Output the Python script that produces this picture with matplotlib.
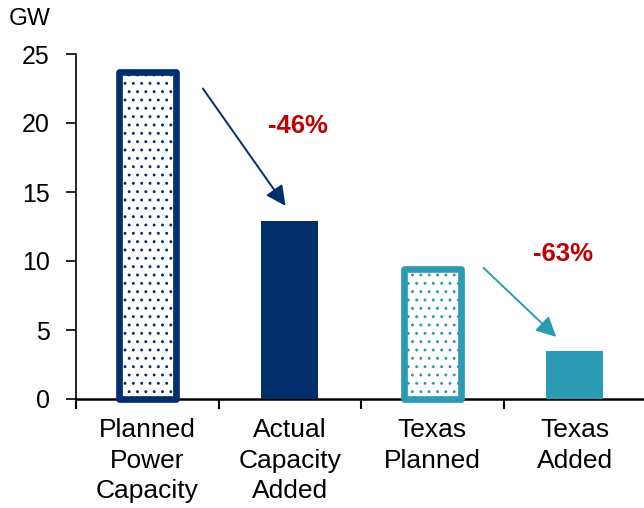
import matplotlib
matplotlib.use("Agg")
import matplotlib.pyplot as plt

plt.rcParams['font.family'] = ['Liberation Sans', 'DejaVu Sans']
plt.rcParams['hatch.linewidth'] = 0.9

# Data
categories = ["Planned\nPower\nCapacity", "Actual\nCapacity\nAdded",
              "Texas\nPlanned", "Texas\nAdded"]
values = [23.7, 12.9, 9.4, 3.5]
change_labels = ["-46%", "-63%"]
y_ticks = [0, 5, 10, 15, 20, 25]

navy = "#002F6C"
teal = "#2B9BB3"
red = "#C00000"
bar_colors = [navy, navy, teal, teal]
outlined = [True, False, True, False]

fig = plt.figure(figsize=(6.44, 5.08), dpi=100)
ax = fig.add_axes([76 / 644, 109 / 508, 570 / 644, 345 / 508])

x = list(range(len(values)))
for xi, v, c, hollow in zip(x, values, bar_colors, outlined):
    if hollow:
        ax.bar(xi, v, width=0.4, facecolor="white", edgecolor=c,
               linewidth=4.8, hatch="..", joinstyle="round",
               clip_on=False, zorder=3)
    else:
        ax.bar(xi, v, width=0.4, color=c, linewidth=0, zorder=3)

# Arrows from planned to actual, with percentage change labels
arrow_specs = [
    (0, navy, (0.39, values[0] - 1.2), (0.97, values[1] + 1.1), (1.06, 19.8)),
    (2, teal, (2.36, values[2] + 0.1), (2.87, values[3] + 1.0), (2.92, 10.5)),
]
for (i, col, start, end, lab_pos), lab in zip(arrow_specs, change_labels):
    ax.annotate("", xy=end, xytext=start,
                arrowprops=dict(arrowstyle="-|>,head_length=1.2,head_width=0.6",
                                color=col, lw=1.4, shrinkA=0, shrinkB=0))
    ax.text(lab_pos[0], lab_pos[1], lab, color=red, fontsize=18.5,
            fontweight="bold", ha="center", va="center")

ax.set_xlim(-0.5, 3.5)
ax.set_ylim(0, 25)
ax.set_yticks(y_ticks)
ax.set_yticklabels([str(t) for t in y_ticks], fontsize=18)

# category separators as major ticks, names centred as minor ticks
ax.set_xticks([-0.5, 0.5, 1.5, 2.5])
ax.set_xticklabels([])
ax.set_xticks(x, minor=True)
ax.set_xticklabels(categories, minor=True, fontsize=19, linespacing=1.32)
ax.tick_params(axis="x", which="minor", length=0, pad=14)
ax.tick_params(axis="x", which="major", length=7, width=1.5, direction="out")
ax.tick_params(axis="y", length=7, width=1.2, direction="out", pad=12)

for s in ["top", "right"]:
    ax.spines[s].set_visible(False)
ax.spines["left"].set_linewidth(1.2)
ax.spines["bottom"].set_linewidth(1.8)

fig.text(9 / 644, 1 - 19 / 508, "GW", fontsize=17.5, ha="left", va="center")

fig.savefig("out.png", dpi=100)
